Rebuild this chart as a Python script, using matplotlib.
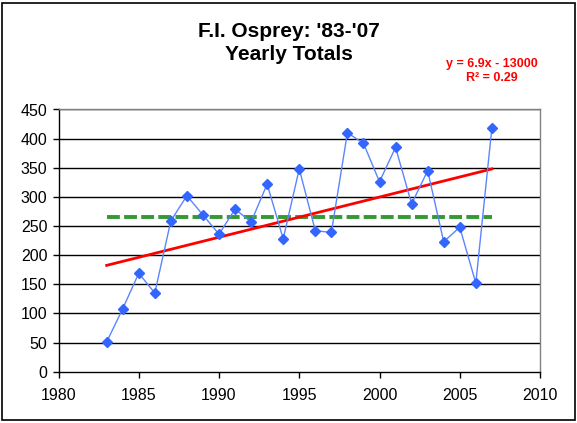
import matplotlib
matplotlib.use("Agg")
import matplotlib.pyplot as plt
import numpy as np
from matplotlib.patches import Rectangle

plt.rcParams['font.family'] = ['Liberation Sans', 'DejaVu Sans']

years = list(range(1983, 2008))
totals = [51, 108, 169, 135, 259, 302, 269, 236, 279, 257, 322, 228, 348,
          242, 239, 410, 392, 326, 385, 288, 345, 223, 248, 152, 418]
title_lines = ["F.I. Osprey: '83-'07", "Yearly Totals"]
eq_lines = ["y = 6.9x - 13000", "R² = 0.29"]
x_ticks = [1980, 1985, 1990, 1995, 2000, 2005, 2010]
y_ticks = list(range(0, 451, 50))

yrs = np.array(years, dtype=float)
vals = np.array(totals, dtype=float)
mean_val = vals.mean()
slope, intercept = np.polyfit(yrs, vals, 1)

fig = plt.figure(figsize=(5.77, 4.23), dpi=100)
ax = fig.add_axes([58.5/577, 1 - 371.7/423, (540 - 58.5)/577, (371.7 - 109.5)/423])

for yv in y_ticks[1:]:
    ax.axhline(yv, color='black', lw=1.0, zorder=1)

ax.plot([yrs[0], yrs[-1]], [mean_val, mean_val], color='#339933', lw=2.8,
        dashes=(3.3, 1.1), dash_capstyle='butt', zorder=2)
ax.plot(yrs[[0, -1]], slope * yrs[[0, -1]] + intercept, color='#ff0000', lw=2.0, zorder=3)
ax.plot(yrs, vals, color='#5b85ff', lw=1.0, marker='D', markersize=5.5,
        markerfacecolor='#3366ff', markeredgecolor='#3366ff', zorder=4)

ax.set_xlim(1980, 2010)
ax.set_ylim(0, 450)
ax.set_xticks(x_ticks)
ax.set_yticks(y_ticks)
ax.tick_params(axis='both', direction='out', length=4, width=1, labelsize=11.5,
               color='black', pad=4)
ax.tick_params(axis='x', pad=8)
for s in ['top', 'right']:
    ax.spines[s].set_color('#808080')
for s in ['left', 'bottom']:
    ax.spines[s].set_color('black')
for s in ax.spines.values():
    s.set_linewidth(1.0)

for txt, base in zip(title_lines, [37.3, 60.3]):
    fig.text(289/577, 1 - base/423, txt, ha='center', va='baseline',
             fontsize=15, fontweight='bold')
for txt, base in zip(eq_lines, [67.3, 80.7]):
    fig.text(491.7/577, 1 - base/423, txt, ha='center', va='baseline',
             fontsize=9, fontweight='bold', color='#ff0000')

fig.patches.append(Rectangle((2/577, 1 - 420/423), 573/577, 417/423,
                             transform=fig.transFigure, fill=False,
                             edgecolor='black', lw=1.2))

fig.savefig('out.png', dpi=100)
